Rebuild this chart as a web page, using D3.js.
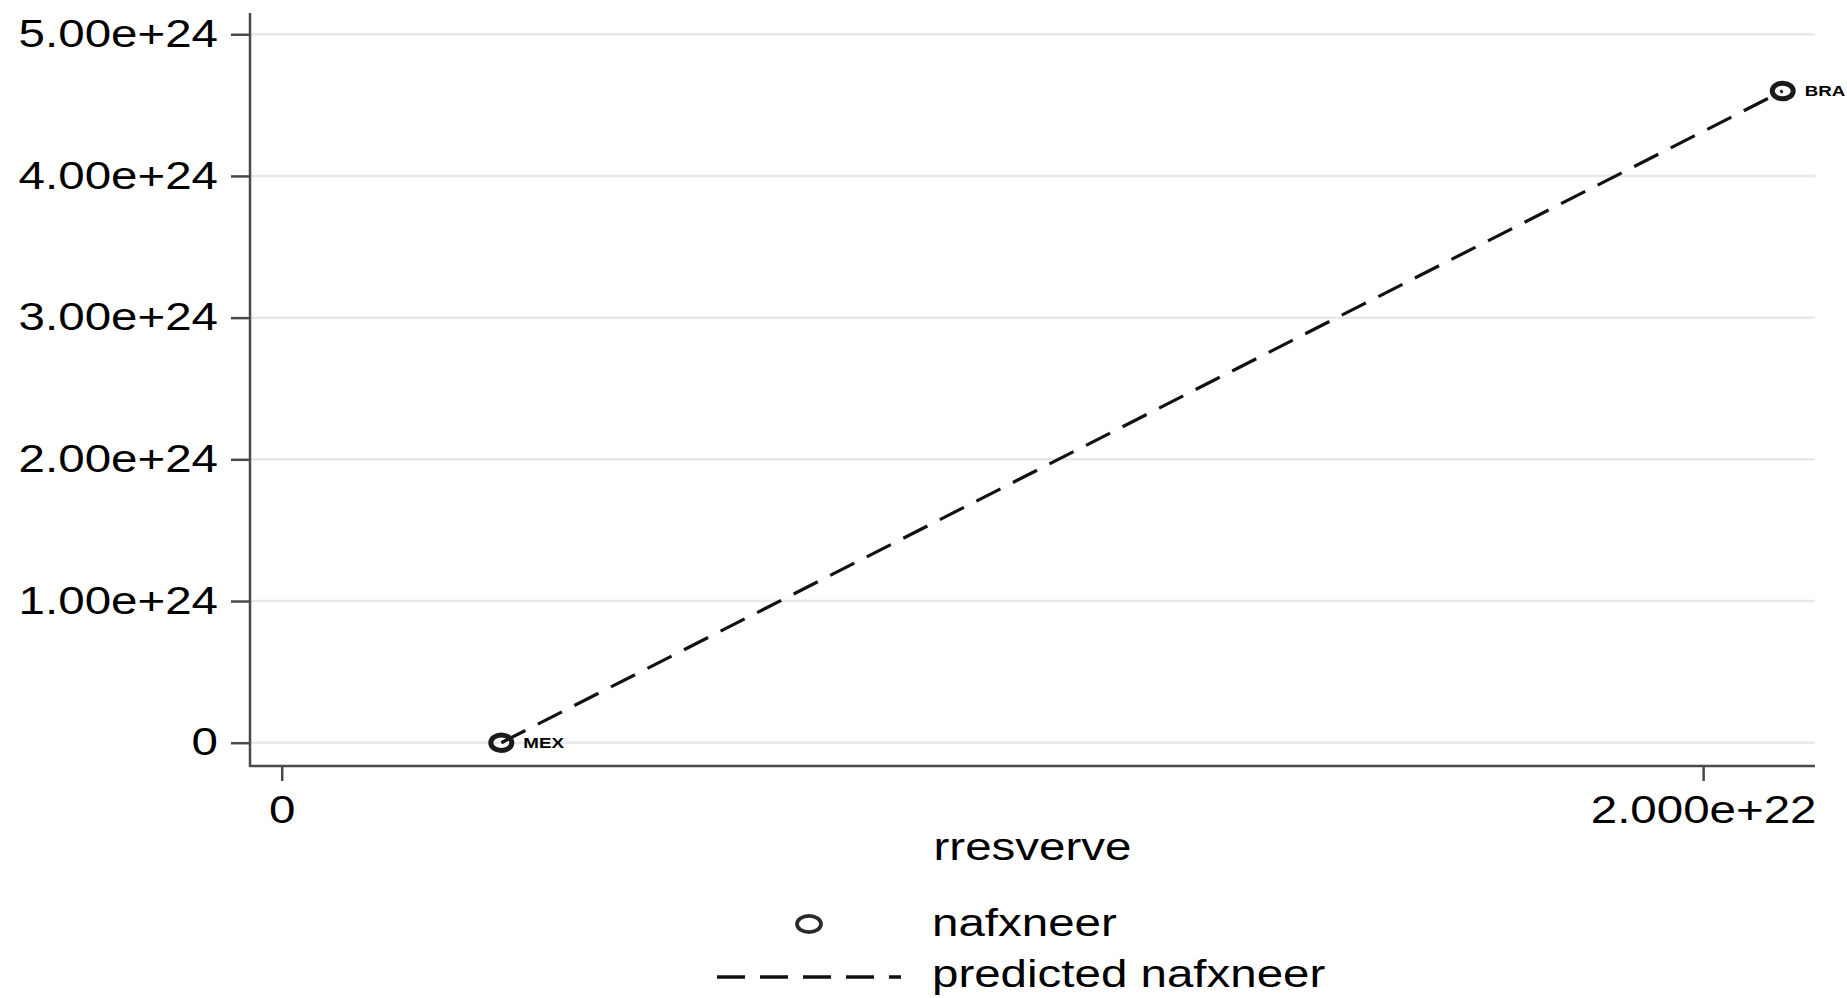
<!DOCTYPE html>
<html>
<head>
<meta charset="utf-8">
<script src="https://cdn.jsdelivr.net/npm/d3@7"></script>
<style>
  body { margin: 0; background: #fff; }
  text { font-family: "Liberation Sans", Arial, sans-serif; fill: #000; }
</style>
</head>
<body>
<div id="my-chart"></div>
<script>
// values
const countries = ["MEX", "BRA"];
const rresverve = [3.09e21, 2.112e22];
const nafxneer = [0.0, 4.60e24];
const predicted = [0.0, 4.60e24];
const yTicks = [0, 1e24, 2e24, 3e24, 4e24, 5e24];
const xTicks = [0, 2e22];
const legendLabels = ["nafxneer", "predicted nafxneer"];
const xLabel = "rresverve";

const width = 1847, height = 998;
const plotLeft = 250, plotRight = 1815, plotTop = 13, plotBottom = 766;
const stretchX = 1.25; // the original graph was widened, text included
const fontSize = 38;

// squash/stretch text horizontally around its own x anchor
function stretch(sel, k) {
  sel.each(function() {
    const t = d3.select(this);
    const x = +t.attr("x") || 0;
    t.attr("transform", `translate(${x * (1 - k)},0) scale(${k},1)`);
  });
}

const xScale = d3.scaleLinear().domain([-4.46e20, 2.1574e22]).range([plotLeft, plotRight]);
const yScale = d3.scaleLinear().domain([-1.644e23, 5.15e24]).range([plotBottom, plotTop]);

const svg = d3.select("#my-chart").append("svg")
    .attr("width", width)
    .attr("height", height)
    .attr("viewBox", [0, 0, width, height]);

svg.append("rect").attr("width", width).attr("height", height).attr("fill", "#fff");

// gridlines
svg.append("g")
  .selectAll("line")
  .data(yTicks)
  .join("line")
    .attr("x1", plotLeft)
    .attr("x2", plotRight)
    .attr("y1", d => yScale(d))
    .attr("y2", d => yScale(d))
    .attr("stroke", "#e8e8e8")
    .attr("stroke-width", 2.5);

const fmtY = d => d === 0 ? "0" : d3.format(".2e")(d);
const fmtX = d => d === 0 ? "0" : d3.format(".3e")(d);

// y-axis
const yAxis = svg.append("g")
    .attr("transform", `translate(${plotLeft},0)`)
    .call(d3.axisLeft(yScale).tickValues(yTicks).tickSize(19).tickPadding(13).tickFormat(fmtY))
    .call(g => g.select(".domain").remove());
yAxis.selectAll(".tick line").attr("stroke", "#4a4a4a").attr("stroke-width", 2.5);
yAxis.selectAll(".tick text").style("font-size", fontSize + "px").call(stretch, stretchX);

// x-axis
const xAxis = svg.append("g")
    .attr("transform", `translate(0,${plotBottom})`)
    .call(d3.axisBottom(xScale).tickValues(xTicks).tickSize(15).tickPadding(15).tickFormat(fmtX))
    .call(g => g.select(".domain").remove());
xAxis.selectAll(".tick line").attr("stroke", "#4a4a4a").attr("stroke-width", 2.5);
xAxis.selectAll(".tick text").style("font-size", fontSize + "px").call(stretch, stretchX);

// axis lines
svg.append("line")
    .attr("x1", plotLeft).attr("x2", plotLeft).attr("y1", plotTop).attr("y2", plotBottom + 1)
    .attr("stroke", "#4a4a4a").attr("stroke-width", 2.5);
svg.append("line")
    .attr("x1", plotLeft - 1).attr("x2", plotRight).attr("y1", plotBottom).attr("y2", plotBottom)
    .attr("stroke", "#4a4a4a").attr("stroke-width", 2.5);

// x title
svg.append("text")
    .attr("x", (plotLeft + plotRight) / 2)
    .attr("y", 860)
    .attr("text-anchor", "middle")
    .style("font-size", fontSize + "px")
    .text(xLabel)
    .call(stretch, stretchX);

// predicted line
const I = d3.range(countries.length).sort((a, b) => rresverve[a] - rresverve[b]);
svg.append("path")
    .datum(I)
    .attr("fill", "none")
    .attr("stroke", "#111")
    .attr("stroke-width", 3.2)
    .attr("stroke-dasharray", "27,14")
    .attr("d", d3.line().x(i => xScale(rresverve[i])).y(i => yScale(predicted[i])));

// markers
const pts = svg.append("g")
  .selectAll("g")
  .data(d3.range(countries.length))
  .join("g")
    .attr("transform", i => `translate(${xScale(rresverve[i])},${yScale(nafxneer[i])})`);
pts.append("ellipse")
    .attr("rx", 10.5)
    .attr("ry", 7.8)
    .attr("fill", "none")
    .attr("stroke", "#1a1a1a")
    .attr("stroke-width", 5);
pts.append("text")
    .attr("x", 22)
    .attr("y", 1)
    .attr("dominant-baseline", "middle")
    .style("font-size", "15px")
    .style("font-weight", "600")
    .text(i => countries[i])
    .call(stretch, stretchX);

// legend
const legend = svg.append("g");
legend.append("ellipse")
    .attr("cx", 809).attr("cy", 924)
    .attr("rx", 12).attr("ry", 8.2)
    .attr("fill", "none")
    .attr("stroke", "#2a2a2a")
    .attr("stroke-width", 3.8);
legend.append("line")
    .attr("x1", 717).attr("x2", 901).attr("y1", 977).attr("y2", 977)
    .attr("stroke", "#111")
    .attr("stroke-width", 3.5)
    .attr("stroke-dasharray", "28,15");
legend.selectAll("text")
  .data(legendLabels)
  .join("text")
    .attr("x", 932)
    .attr("y", (d, i) => 936 + i * 51)
    .style("font-size", fontSize + "px")
    .text(d => d)
    .call(stretch, stretchX);
</script>
</body>
</html>
